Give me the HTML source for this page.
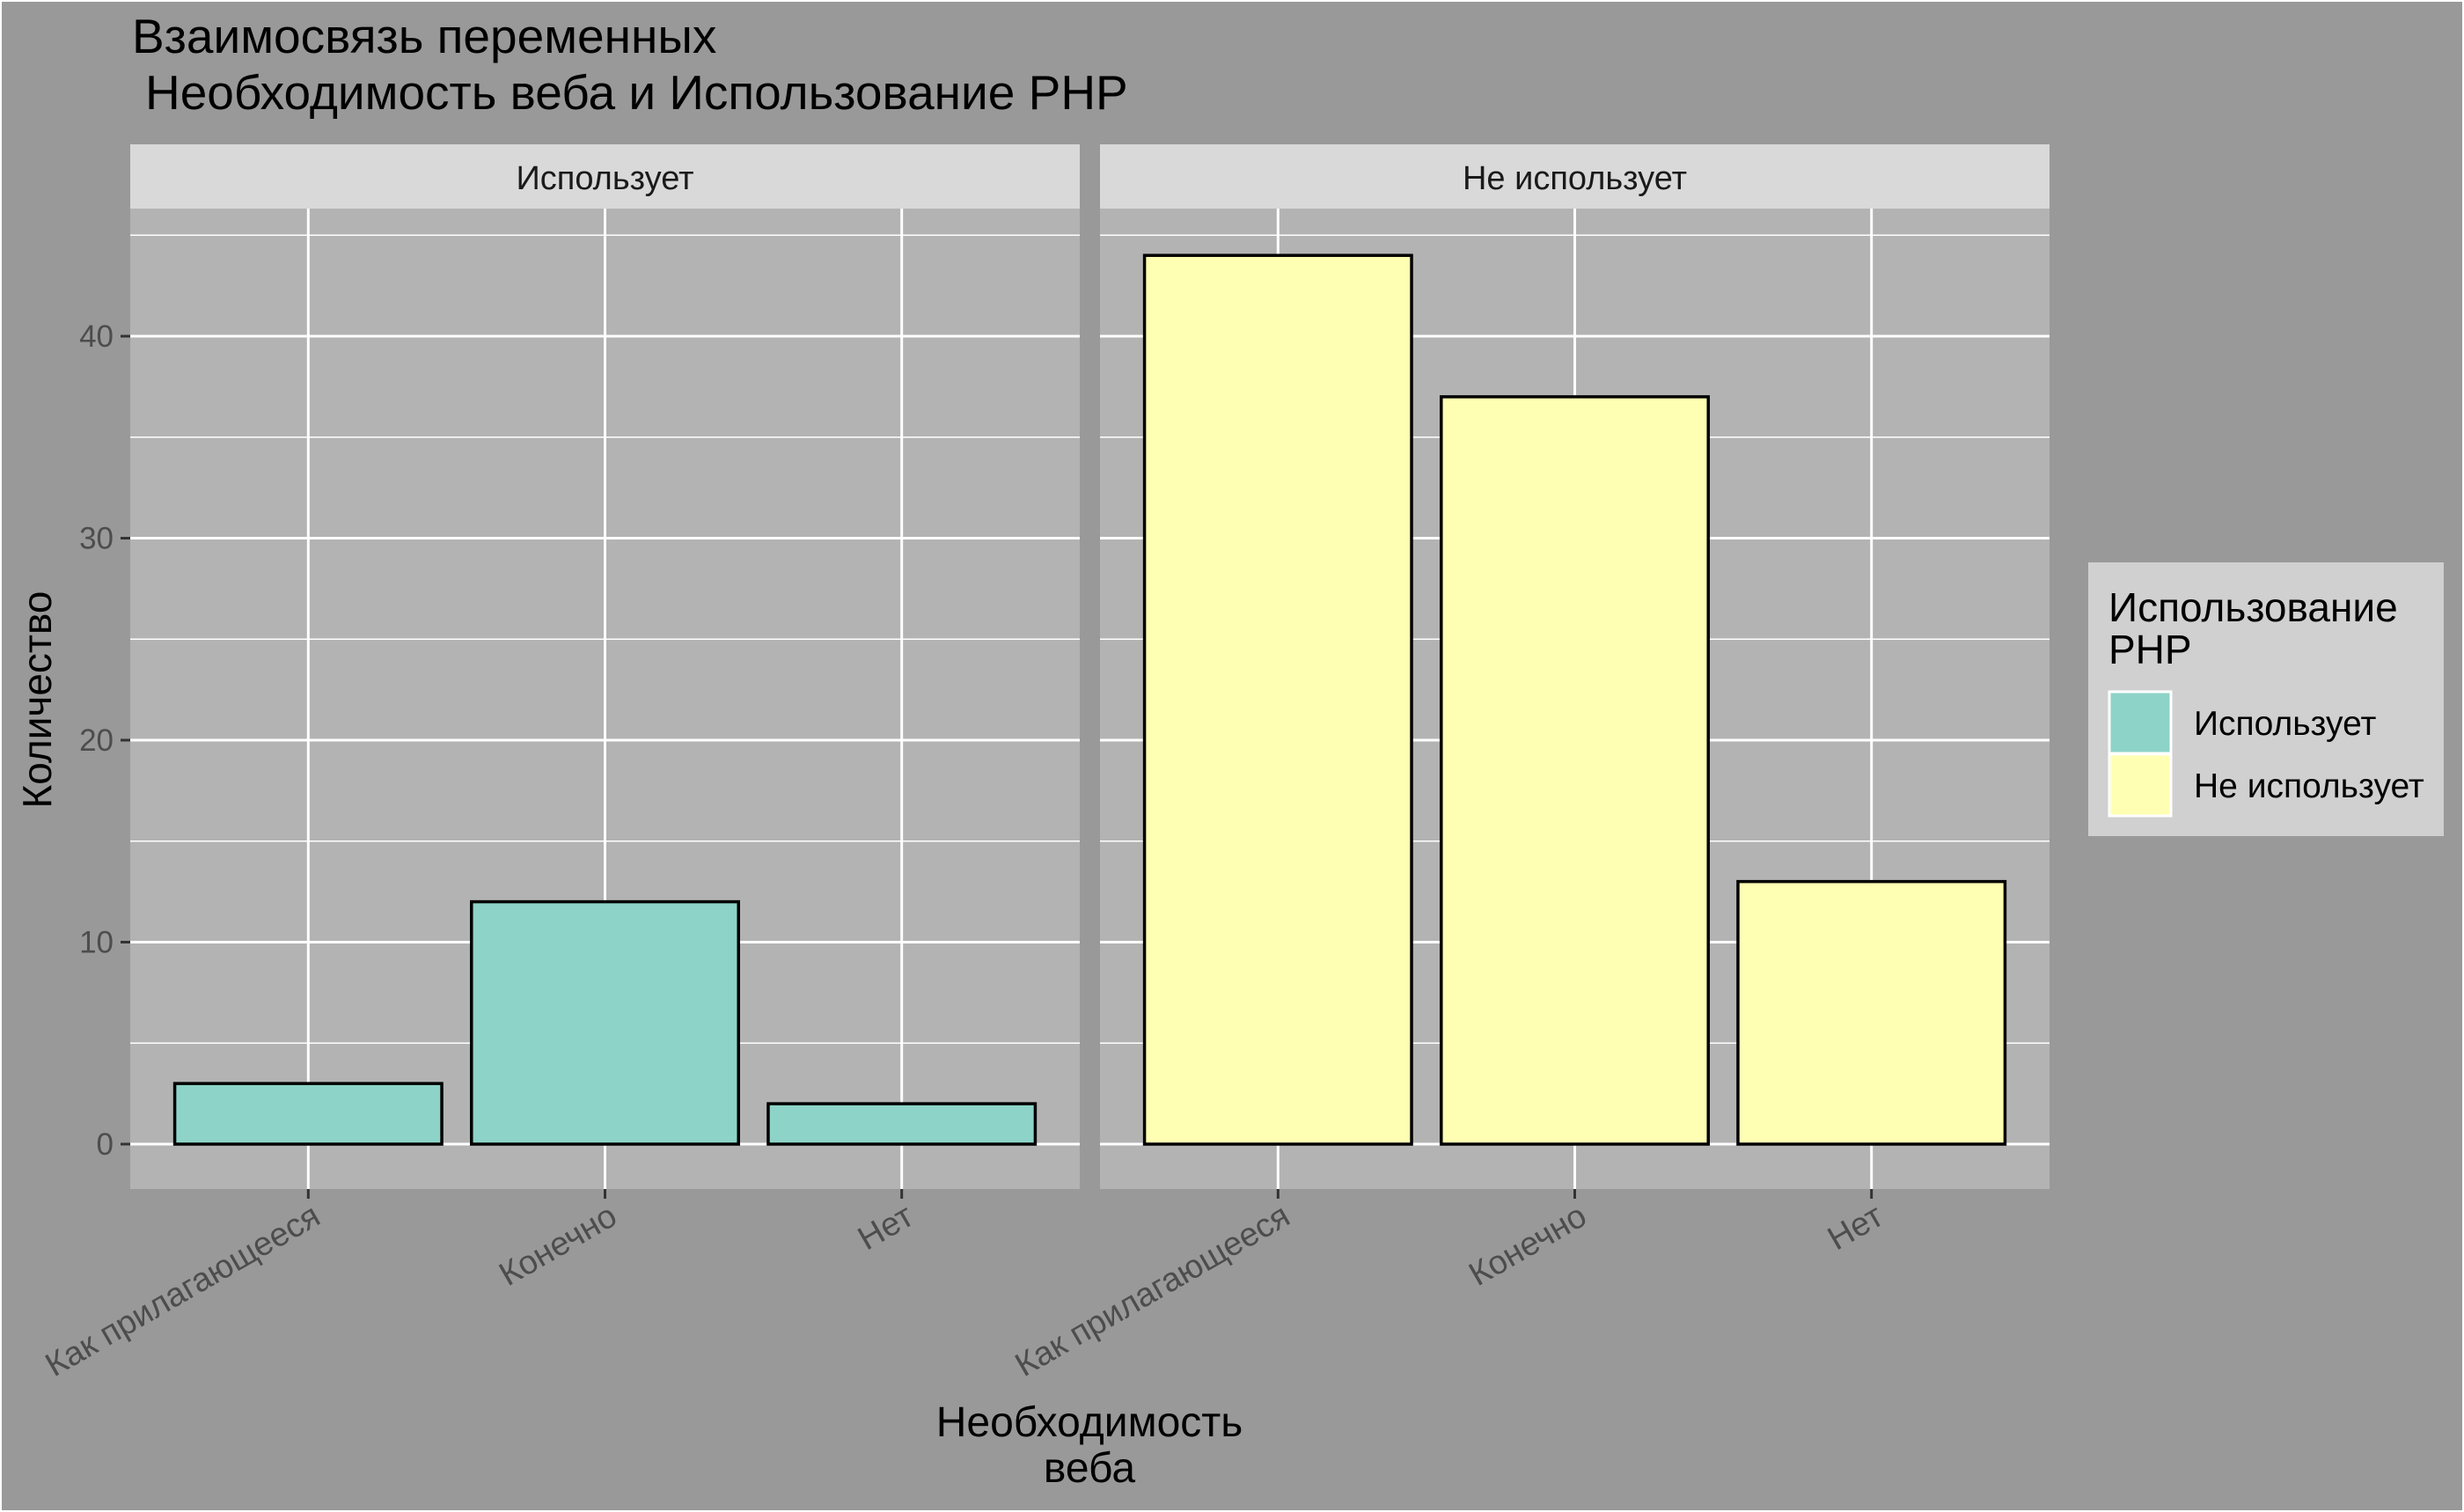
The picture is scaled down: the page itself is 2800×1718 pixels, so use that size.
<!DOCTYPE html>
<html><head><meta charset="utf-8"><style>
body{margin:0;background:#999}
svg{display:block}
text{font-family:"Liberation Sans","DejaVu Sans",sans-serif}
</style></head><body>
<svg id="c" width="2800" height="1718" viewBox="0 0 2800 1718" xmlns="http://www.w3.org/2000/svg">
<rect x="1" y="1" width="2798" height="1716" fill="#999999" stroke="#ffffff" stroke-width="2"/>
<text x="150" y="60" font-size="55" fill="#000">Взаимосвязь переменных</text>
<text x="165" y="124" font-size="55" fill="#000">Необходимость веба и Использование PHP</text>
<text transform="translate(58,795) rotate(-90)" text-anchor="middle" font-size="46" fill="#000">Количество</text>
<text x="1238" y="1632" text-anchor="middle" font-size="48" fill="#000">Необходимость</text>
<text x="1238" y="1684" text-anchor="middle" font-size="48" fill="#000">веба</text>
<g id="plot"></g>
<rect x="2373" y="639" width="404" height="311" fill="#d0d0d0"/>
<text x="2396" y="706" font-size="46" fill="#000">Использование</text>
<text x="2396" y="754" font-size="46" fill="#000">PHP</text>
<rect x="2397" y="786" width="70" height="70" fill="#8dd3c7" stroke="#fff" stroke-width="3"/>
<rect x="2397" y="857" width="70" height="70" fill="#ffffb3" stroke="#fff" stroke-width="3"/>
<text x="2493" y="835" font-size="39" fill="#000">Использует</text>
<text x="2493" y="906" font-size="39" fill="#000">Не использует</text>
</svg>
<script>
const panels = ["Использует", "Не использует"];
const categories = ["Как прилагающееся", "Конечно", "Нет"];
const usesValues = [3, 12, 2];
const notUsesValues = [44, 37, 13];
const yTicks = [0, 10, 20, 30, 40];
const yMinor = [5, 15, 25, 35, 45];
const series = [usesValues, notUsesValues];
const colors = ["#8dd3c7", "#ffffb3"];

const NS = "http://www.w3.org/2000/svg";
const g = document.getElementById("plot");
function mk(tag, attrs, parent) {
  const e = document.createElementNS(NS, tag);
  for (const k in attrs) e.setAttribute(k, attrs[k]);
  (parent || g).appendChild(e);
  return e;
}
const panelX = [148, 1250], panelW = 1079, plotTop = 237, plotBottom = 1351;
function y(v) { return 1300 - v * 22.95; }
function cx(p, i) { return panelX[p] + panelW * (0.6 + i) / 3.2; }
const bw = panelW * 0.9 / 3.2;

panels.forEach((name, p) => {
  const px = panelX[p];
  let r = mk("rect", {x: px, y: plotTop, width: panelW, height: plotBottom - plotTop, fill: "#b3b3b3"});
  
  
  let s = mk("rect", {x: px, y: 164, width: panelW, height: 73, fill: "#d9d9d9"});
  
  
  let st = mk("text", {x: px + panelW / 2, y: 215, "text-anchor": "middle", "font-size": 38, fill: "#1a1a1a"});
  st.textContent = name;
  
  
  yMinor.forEach(v => {
    let l = mk("line", {x1: px, x2: px + panelW, y1: y(v), y2: y(v), stroke: "#fff", "stroke-width": 1.5});
    
    
  });
  yTicks.forEach(v => {
    let l = mk("line", {x1: px, x2: px + panelW, y1: y(v), y2: y(v), stroke: "#fff", "stroke-width": 3});
    
    
  });
  categories.forEach((c, i) => {
    const xc = cx(p, i);
    let l = mk("line", {x1: xc, x2: xc, y1: plotTop, y2: plotBottom, stroke: "#fff", "stroke-width": 3});
    
    
    let t = mk("line", {x1: xc, x2: xc, y1: plotBottom, y2: plotBottom + 11, stroke: "#333", "stroke-width": 3});
    
    
    let tl = mk("text", {transform: `translate(${xc + 16},${plotBottom + 38}) rotate(-30)`, "text-anchor": "end", "font-size": 38, fill: "#4d4d4d"});
    tl.textContent = c;
    
    
  });
  series[p].forEach((v, i) => {
    const b = mk("rect", {x: cx(p, i) - bw / 2, y: y(v), width: bw, height: y(0) - y(v), fill: colors[p], stroke: "#000", "stroke-width": 3.5});
    
    
  });
});
yTicks.forEach(v => {
  let t = mk("line", {x1: 137, x2: 148, y1: y(v), y2: y(v), stroke: "#333", "stroke-width": 3});
  
  
  let tl = mk("text", {x: 129, y: y(v) + 12, "text-anchor": "end", "font-size": 35, fill: "#4d4d4d"});
  tl.textContent = v;
  
  
});
</script>
</body></html>
